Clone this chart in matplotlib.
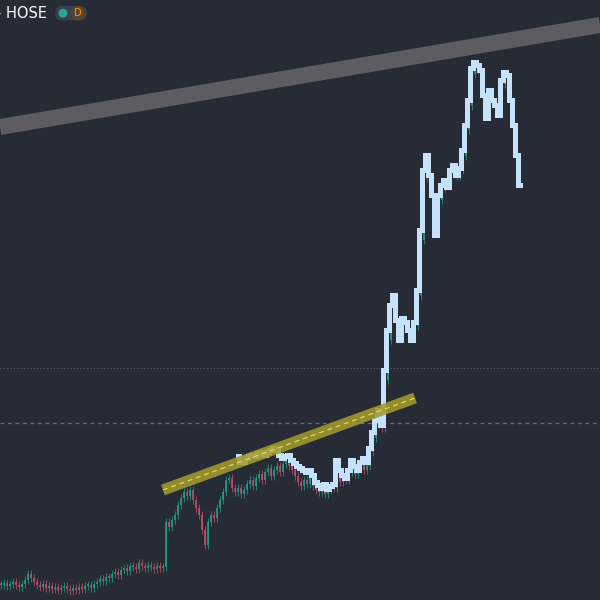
import matplotlib
matplotlib.use("Agg")
import matplotlib.pyplot as plt
from matplotlib.patches import FancyBboxPatch, Circle

# Cierres diarios (miles VND), una vela por sesion
closes = [
    13.75, 14.25, 13.5, 14.0, 14.5, 13.75, 13.25, 14.0, 15.0,
    16.5, 15.5, 14.5,
    13.75, 13.25, 14.0, 13.0, 13.5,
    12.75, 13.25, 12.5, 13.0, 13.5, 12.75, 12.25, 13.0,
    12.5, 13.25, 12.75, 13.5, 13.75, 13.0, 14.0,
    14.5, 15.25, 14.75, 15.75, 15.5, 16.5,
    17.0, 16.25, 17.5, 18.0, 17.25, 18.5, 18.25, 17.75,
    19.25, 18.5, 18.0, 18.75, 18.25, 17.75, 18.5, 18.0, 18.25,
    29.5, 28.25, 30.0, 31.25, 33.75, 35.5, 37.0, 36.0, 37.5, 35.0,
    33.0, 31.25, 27.5, 23.75, 29.5, 31.25, 30.5, 33.0, 35.0, 37.0,
    40.0, 40.5, 38.0, 37.0,
    38.0, 36.5, 37.5, 39.0, 40.0, 38.5, 40.5, 41.5, 40.0, 42.0,
    43.0, 41.0, 42.5, 43.5, 42.0, 44.0, 45.0, 43.5, 42.5, 41.0, 39.5,
    38.5, 40.0, 39.0, 40.5, 38.5, 37.5, 37.0, 38.0, 36.5, 37.5, 38.5, 38.0,
    40.5, 39.5, 41.0, 40.0, 42.0, 43.5, 41.5, 43.0, 44.5, 42.5, 43.5,
    47.0, 50.5, 54.0, 56.5, 53.0, 65.0, 75.0, 82.0, 84.5, 78.5, 76.0,
    79.5, 78.5, 76.5, 75.5, 78.5, 86.0, 100.0, 115.5, 119.5, 115.0, 110.5, 102.5,
    110.0, 113.0, 114.0, 113.5, 116.5, 117.5, 116.0, 117.5, 121.0, 127.5, 133.5, 141.5,
    143.5, 142.5, 141.5, 136.0, 131.5, 137.0, 134.5, 133.0, 132.0, 139.0,
    141.0, 140.5, 134.5, 128.0, 120.5, 114.5,
]

# Trazo resaltado (dibujo a mano sobre las velas), empieza en la vela 79
path_start = 79
path_values = [
    46.0, 44.5, 44.5, 45.5, 46.0, 46.25, 46.0, 46.75, 47.0, 46.25, 47.0,
    47.5, 48.0, 47.5, 46.25, 45.5, 46.0, 46.25, 45.0, 44.25, 43.5,
    43.0, 42.5, 42.0, 42.5, 41.25, 39.5, 38.75, 38.0, 39.0, 37.75, 38.5, 39.0,
    45.0, 42.5, 41.25, 40.5, 42.5, 45.0, 43.5, 42.5, 44.5, 45.5, 44.5,
    48.0, 52.0, 55.0, 57.5, 53.75, 67.5, 77.5, 83.75, 86.25, 80.0, 75.0,
    80.5, 79.5, 77.5, 75.0, 79.5, 87.5, 102.5, 117.5, 121.25, 116.25, 111.25, 101.25,
    111.25, 113.75, 115.0, 113.25, 117.5, 118.75, 116.25, 118.0, 122.5, 128.75, 135.0, 143.0,
    144.5, 143.75, 142.5, 136.25, 130.5, 137.5, 135.0, 133.75, 131.25, 140.0,
    142.0, 141.25, 135.0, 128.75, 121.25, 113.75,
]

# Lineas dibujadas: (indice, precio)
gray_trend = [(-0.33, 128.25), (199.67, 153.75)]
yellow_trend = [(54.0, 37.5), (138.0, 60.5)]
dotted_level = 68.0
dashed_level = 54.25

BG = "#272b36"
UP = "#22a087"
DOWN = "#c4506b"

fig = plt.figure(figsize=(6, 6), dpi=100)
fig.patch.set_facecolor(BG)
ax = fig.add_axes([0, 0, 1, 1])
ax.set_facecolor(BG)

opens = [closes[0]] + closes[:-1]
xs = list(range(len(closes)))
wick = 1.1
for i, o, c in zip(xs, opens, closes):
    col = UP if c >= o else DOWN
    lo, hi = min(o, c), max(o, c)
    ax.vlines(i, lo - wick, hi + wick, color=col, lw=0.7, alpha=0.75, zorder=2)
    ax.bar(i, max(hi - lo, 0.5), bottom=lo, width=0.7, color=col,
           alpha=0.8, linewidth=0, zorder=2)

# niveles horizontales
ax.axhline(dotted_level, color="#5a5f6c", lw=0.8, ls=(0, (1, 2)), zorder=1)
ax.axhline(dashed_level, color="#7e57a8", lw=0.9, ls=(0, (3, 3)), zorder=1)

# tendencia gris
(gx0, gy0), (gx1, gy1) = gray_trend
ax.plot([gx0, gx1], [gy0, gy1], color="#5d5d61", lw=11.5, solid_capstyle="butt", zorder=3)

# trazo resaltado
px = list(range(path_start, path_start + len(path_values)))
ax.plot(px, path_values, drawstyle="steps-mid", color="#c6e2fb", lw=3.6,
        solid_joinstyle="miter", zorder=4)

# canal amarillo
(yx0, yy0), (yx1, yy1) = yellow_trend
ax.plot([yx0, yx1], [yy0, yy1], color="#a39a2c", lw=8, alpha=0.88,
        solid_capstyle="butt", zorder=5)
ax.plot([yx0, yx1], [yy0, yy1], color="#e0d664", lw=0.9, ls=(0, (4, 3)), zorder=6)

ax.set_xlim(-0.33, 199.67)
ax.set_ylim(10, 160)
ax.axis("off")

# cabecera
fig.text(-0.007, 0.978, "- HOSE", color="white", fontsize=10.5,
         fontfamily="DejaVu Sans", va="center", ha="left")
pill = FancyBboxPatch((0.092, 0.966), 0.053, 0.024, boxstyle="round,pad=0,rounding_size=0.012",
                      transform=fig.transFigure, facecolor="#3a3f4b", edgecolor="none")
fig.patches.append(pill)
fig.patches.append(Circle((0.105, 0.978), 0.0075, transform=fig.transFigure,
                          facecolor="#26a69a", edgecolor="none"))
fig.patches.append(Circle((0.130, 0.978), 0.012, transform=fig.transFigure,
                          facecolor="#5a4630", edgecolor="none"))
fig.text(0.130, 0.978, "D", color="#ff9800", fontsize=7, ha="center", va="center")

fig.savefig("out.png", dpi=100, facecolor=BG)
